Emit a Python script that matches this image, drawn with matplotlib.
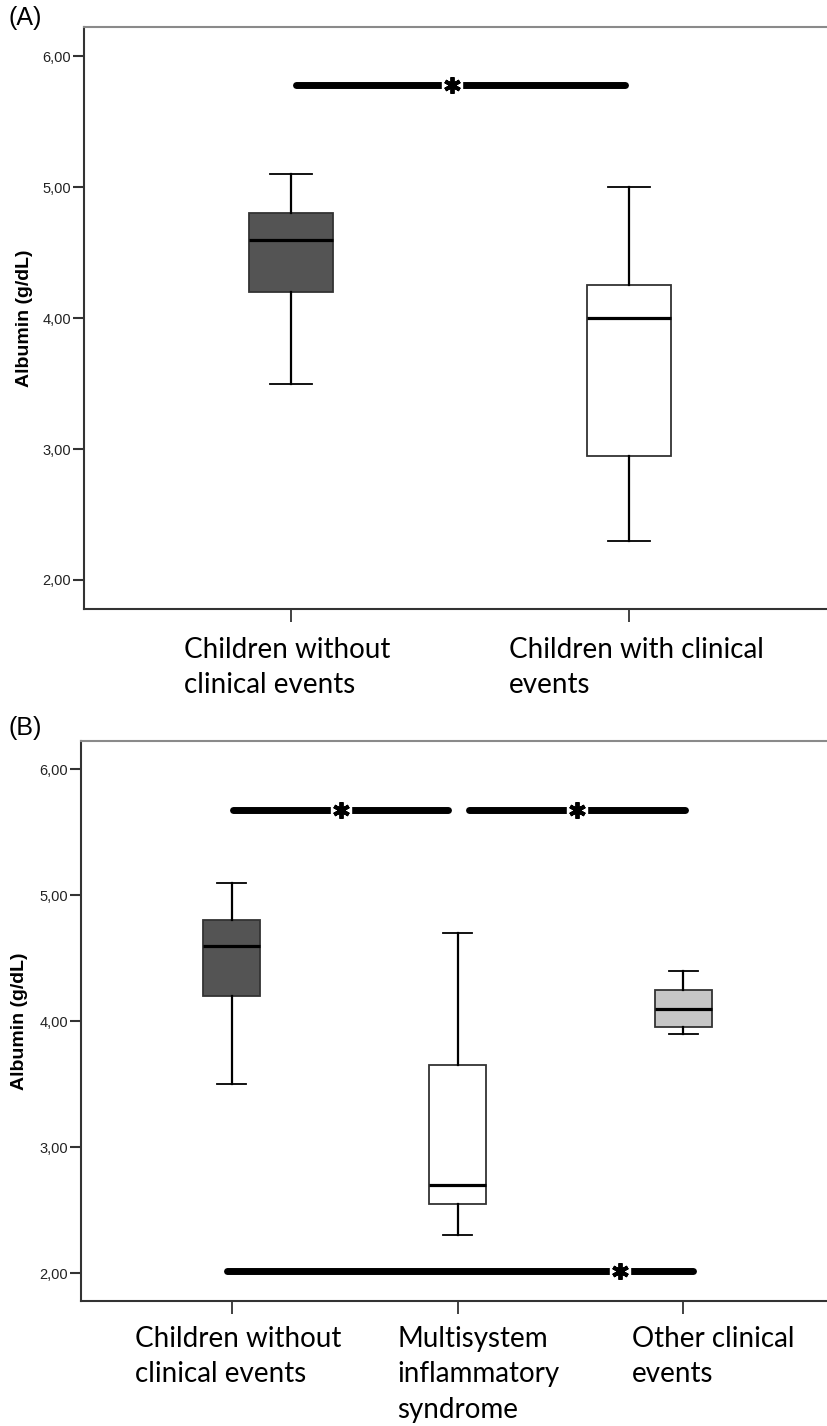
import matplotlib
matplotlib.use('Agg')
import matplotlib.pyplot as plt
from matplotlib.ticker import FuncFormatter

# ---- data (albumin, g/dL) ----
groups_a = ['Children without\nclinical events', 'Children with clinical\nevents']
whislo_a = [3.50, 2.30]
q1_a = [4.20, 2.95]
med_a = [4.60, 4.00]
q3_a = [4.80, 4.25]
whishi_a = [5.10, 5.00]
colors_a = ['#545454', '#ffffff']

groups_b = ['Children without\nclinical events', 'Multisystem\ninflammatory\nsyndrome',
            'Other clinical\nevents']
whislo_b = [3.50, 2.30, 3.90]
q1_b = [4.20, 2.55, 3.95]
med_b = [4.60, 2.70, 4.10]
q3_b = [4.80, 3.65, 4.25]
whishi_b = [5.10, 4.70, 4.40]
colors_b = ['#545454', '#ffffff', '#c6c6c6']

# significance bars: (start, end, height, star position)
sig_a = [(1.015, 1.988, 5.785, 1.476)]
sig_b = [(1.007, 1.958, 5.675, 1.485),
         (2.051, 3.007, 5.675, 2.529),
         (0.980, 3.040, 2.020, 2.720)]

# category label left edge relative to its tick, in pixels
shift_a = [-107, -120]
shift_b = [-96.5, -60.5, -51.5]

W, H = 827, 1426
fig = plt.figure(figsize=(W / 100, H / 100), dpi=100)


def panel(rect, xlim, groups, lo, q1, med, q3, hi, colors, sigs, shifts, drop):
    ax = fig.add_axes(rect)
    stats = []
    for i in range(len(groups)):
        stats.append(dict(whislo=lo[i], q1=q1[i], med=med[i], q3=q3[i], whishi=hi[i]))
    pos = list(range(1, len(groups) + 1))
    bp = ax.bxp(stats, positions=pos, widths=0.25, capwidths=0.125,
                patch_artist=True, showfliers=False,
                boxprops=dict(edgecolor='#333333', linewidth=1.3),
                medianprops=dict(color='black', linewidth=2.3),
                whiskerprops=dict(color='black', linewidth=1.6),
                capprops=dict(color='black', linewidth=1.3))
    for patch, c in zip(bp['boxes'], colors):
        patch.set_facecolor(c)

    for x0, x1, y, xs in sigs:
        ax.plot([x0, x1], [y, y], color='black', lw=5, solid_capstyle='round', zorder=3)
        ax.plot([xs], [y], marker='s', ms=14, color='white', mec='white', zorder=4)
        ax.plot([xs], [y], marker=(6, 2, 0), ms=12, mew=2.8, color='black', zorder=5)

    ax.set_xlim(*xlim)
    ax.set_ylim(1.778, 6.225)
    ax.set_yticks([2, 3, 4, 5, 6])
    ax.yaxis.set_major_formatter(FuncFormatter(lambda v, p: f'{v:.2f}'.replace('.', ',')))
    ax.set_xticks(pos)
    ax.set_xticklabels([])
    for p, g, dx in zip(pos, groups, shifts):
        ax.annotate(g, xy=(p, 0), xycoords=('data', 'axes fraction'),
                    xytext=(dx * 0.72, -drop * 0.72), textcoords='offset points',
                    ha='left', va='top', fontsize=20, family='Lato', linespacing=1.45,
                    annotation_clip=False)
    ax.tick_params(axis='y', direction='out', length=8, width=1.5, color='#333333',
                   labelsize=10.5, pad=1.5, labelcolor='#222222')
    ax.tick_params(axis='x', direction='out', length=9.5, width=1.3, color='#333333')
    for lab in ax.get_yticklabels():
        lab.set_family('Liberation Sans')
    ax.set_ylabel('Albumin (g/dL)', fontsize=14, fontweight='bold', family='Liberation Sans')
    for s in ['left', 'bottom']:
        ax.spines[s].set_color('#333333')
        ax.spines[s].set_linewidth(1.5)
    ax.spines['top'].set_color('#8a8a8a')
    ax.spines['top'].set_linewidth(1.5)
    ax.spines['right'].set_visible(False)
    return ax


ax_a = panel([84 / W, 1 - 609 / H, 1 - 84 / W, (609 - 27) / H], (0.3876, 2.586),
             groups_a, whislo_a, q1_a, med_a, q3_a, whishi_a, colors_a, sig_a, shift_a, 28)
ax_a.yaxis.set_label_coords(-0.0686, 0.5)

ax_b = panel([81 / W, 1 - 1301 / H, 1 - 81 / W, (1301 - 741) / H], (0.334, 3.635),
             groups_b, whislo_b, q1_b, med_b, q3_b, whishi_b, colors_b, sig_b, shift_b, 25)
ax_b.yaxis.set_label_coords(-0.071, 0.5)

fig.text(8 / W, 1 - 6 / H, '(A)', fontsize=18, family='Liberation Sans', ha='left', va='top')
fig.text(8 / W, 1 - 716 / H, '(B)', fontsize=18, family='Liberation Sans', ha='left', va='top')

fig.savefig('out.png', dpi=100, facecolor='white')
